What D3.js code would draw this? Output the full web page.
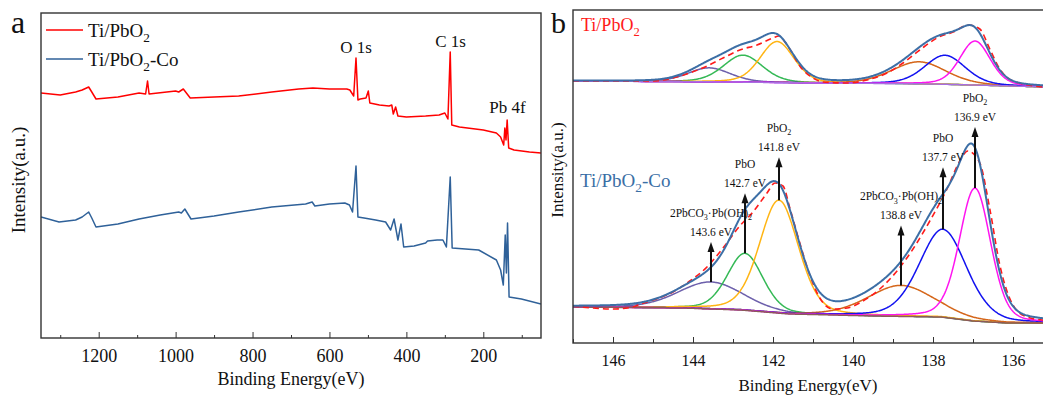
<!DOCTYPE html>
<html lang="en">
<head>
<meta charset="UTF-8">
<title>XPS survey and Pb 4f spectra</title>
<script src="https://d3js.org/d3.v7.min.js"></script>
<style>
  body { margin: 0; background: #fff; }
  svg { display: block; background: #fff; }
</style>
</head>
<body>
<svg width="1043" height="399"></svg>
<script>
// ---------- panel a : survey spectra, [binding energy (eV), intensity (a.u.)]
const surveyPb = [[1350,245],[1300,243],[1260,246],[1243,248],[1226,251],[1218,246],[1207,239],[1150,241],[1095,245],[1078,244],[1073,257],[1069,244],[1000,247],[992,246],[980,249],[972,245],[962,240],[900,241],[836,242],[750,246],[680,249],[643,250],[600,249],[555,249],[547,248],[537,242],[531,280],[526,238],[520,239],[505,240],[499,247],[495,235],[470,233],[445,232],[438,233],[434,224],[428,231],[422,222],[400,221],[350,222],[315,223],[300,225],[292,219],[286,286],[282,213],[262,211],[200,208],[166,205],[155,201],[147,193],[144,210],[141,198],[138,218],[134,190],[120,188],[80,186],[50,185]];
const surveyCo = [[1350,121],[1303,116],[1260,118],[1243,121],[1226,126],[1218,120],[1207,111],[1150,114],[1095,119],[1040,123],[992,126],[985,125],[976,129],[968,124],[960,119],[900,122],[836,126],[750,131],[662,134],[645,136],[638,132],[600,134],[560,135],[548,133],[540,126],[531,172],[526,121],[510,120],[480,118],[454,116],[441,108],[432,119],[422,98],[414,114],[407,91],[380,92],[350,95],[345,97],[320,98],[305,98],[296,91],[286,161],[281,90],[212,88],[166,78],[155,68],[148,53],[143,103],[140,65],[137,115],[133,41],[101,39],[50,34]];
const surveyNames = ["Ti/PbO_2", "Ti/PbO_2-Co"];
const surveyPeakLabels = ["O 1s", "C 1s", "Pb 4f"];
const surveyPeakEnergy = [531, 285, 137];
const surveyMajor = [1200, 1000, 800, 600, 400, 200];
const surveyMinor = [1300, 1100, 900, 700, 500, 300, 100];

// ---------- panel b : Pb 4f fits
const peakNames = ["2PbCO_3·Pb(OH)_2", "PbO", "PbO_2", "2PbCO_3·Pb(OH)_2", "PbO", "PbO_2"];
const peakLabelEv = ["143.6 eV", "142.7 eV", "141.8 eV", "138.8 eV", "137.7 eV", "136.9 eV"];
// Ti/PbO2-Co (lower spectrum)
const coCenter = [143.55, 142.7, 141.85, 138.8, 137.75, 136.95];
const coHeight = [27, 57, 113, 31, 88, 133];
const coFwhm = [1.9, 1.05, 1.15, 1.95, 1.4, 0.92];
const coBackground = [[147,16],[144.25,15],[142.8,13],[141.6,9],[141,8.5],[139.5,7],[137.8,6],[137,2],[136.15,0],[135.2,0]];
const coRaw = [[147.0,17],[146.5,15],[146.0,14],[145.5,16],[145.3,19],[144.5,31],[144.08,42],[143.65,56],[143.25,75],[142.83,97],[142.5,111],[142.15,130],[141.95,140],[141.75,137],[141.58,115],[141.33,80],[141.08,48],[140.83,25],[140.5,14],[140.15,15],[139.75,22],[139.33,34],[138.9,52],[138.5,74],[138.08,102],[137.65,134],[137.33,162],[137.13,172],[136.83,160],[136.58,114],[136.33,58],[136.0,18],[135.65,6],[135.25,3]];
// Ti/PbO2 (upper spectrum)
const pbCenter = [143.6, 142.75, 141.9, 138.35, 137.7, 136.95];
const pbHeight = [14, 27, 41, 22, 29, 44];
const pbFwhm = [1.25, 1.15, 1.0, 1.6, 1.2, 0.9];
const pbBackground = [[147,242],[143,241],[141,240],[139,239.5],[138,239],[137,238],[136,237],[135.2,236]];
const pbRaw = [[147.0,242],[145.0,242],[144.5,245],[144.08,250],[143.65,257],[143.25,265],[142.83,273],[142.4,278],[142.0,285],[141.85,287],[141.7,281],[141.55,272],[141.33,257],[141.0,245],[140.75,241],[140.15,240],[139.65,243],[139.15,250],[138.75,260],[138.33,273],[137.9,285],[137.5,291],[137.1,298],[136.83,294],[136.58,274],[136.33,254],[136.0,242],[135.25,236]];
const fitMajor = [146, 144, 142, 140, 138, 136];
const fitMinor = [147, 145, 143, 141, 139, 137, 135];

// ---------- styles
const FONT = "'Liberation Serif', 'Times New Roman', 'DejaVu Serif', serif";
const compColors = ["#6c5fab", "#35b956", "#ffb514", "#d5661a", "#1212f0", "#ff14f0"];
const arrowLen = [40, 60, 43, 60, 62, 61];
const lorentzMix = 0.25;

const svg = d3.select("svg").attr("font-family", FONT);

// write "PbO_2" style strings with subscripts
function rich(sel, str, fs) {
  let down = false;
  str.split(/(_\d)/).forEach(part => {
    if (!part) return;
    if (part[0] === "_") {
      sel.append("tspan").attr("font-size", fs * 0.7).attr("dy", fs * 0.28).text(part.slice(1));
      down = true;
    } else {
      const t = sel.append("tspan").text(part);
      if (down) { t.attr("dy", -fs * 0.28); down = false; }
    }
  });
  return sel;
}

function txt(g, size) {
  return g.append("text").attr("font-family", FONT).attr("font-size", size).attr("fill", "#111");
}

// ================= panel a
const ax = d3.scaleLinear().domain([1350, 50]).range([41, 541]);
const ay = d3.scaleLinear().domain([0, 325]).range([338, 13]);
const gA = svg.append("g");
gA.append("clipPath").attr("id", "clipA").append("rect")
  .attr("x", 41).attr("y", 13).attr("width", 500).attr("height", 325);

const lineA = d3.line().x(d => ax(d[0])).y(d => ay(d[1]));
const surveyColors = ["#ff0000", "#2f6199"];
[surveyPb, surveyCo].forEach((s, i) => {
  gA.append("path").datum(s).attr("d", lineA)
    .attr("fill", "none").attr("stroke", surveyColors[i]).attr("stroke-width", 1.5)
    .attr("stroke-linejoin", "round").attr("clip-path", "url(#clipA)");
});

gA.append("g").attr("transform", "translate(0,338)")
  .call(d3.axisBottom(ax).tickValues(surveyMajor).tickSize(-6).tickPadding(11).tickFormat(d3.format("d")))
  .attr("font-size", 18).attr("font-family", FONT).attr("color", "#333")
  .call(g => g.select(".domain").remove())
  .call(g => g.selectAll("text").attr("fill", "#111"));
gA.append("g").attr("transform", "translate(0,338)")
  .call(d3.axisBottom(ax).tickValues(surveyMinor).tickSize(-3).tickFormat(""))
  .attr("color", "#333")
  .call(g => g.select(".domain").remove());

gA.append("rect").attr("x", 41).attr("y", 13).attr("width", 500).attr("height", 325)
  .attr("fill", "none").attr("stroke", "#333").attr("stroke-width", 1.4);

txt(gA, 18).attr("x", 291).attr("y", 385).attr("text-anchor", "middle").text("Binding Energy(eV)");
txt(gA, 19).attr("transform", "translate(25,180) rotate(-90)").attr("text-anchor", "middle").text("Intensity(a.u.)");
txt(gA, 32).attr("x", 11).attr("y", 33).text("a");

// legend
surveyNames.forEach((n, i) => {
  const y = 30 + i * 29;
  gA.append("line").attr("x1", 46).attr("x2", 83).attr("y1", y).attr("y2", y)
    .attr("stroke", surveyColors[i]).attr("stroke-width", 1.6);
  rich(txt(gA, 19).attr("x", 88).attr("y", y + 7), n, 19);
});

// peak labels
const surveyLabelY = [53, 47, 113];
surveyPeakLabels.forEach((t, i) => {
  txt(gA, 17).attr("x", ax(surveyPeakEnergy[i])).attr("y", surveyLabelY[i])
    .attr("text-anchor", "middle").text(t);
});

// ================= panel b
const bx = d3.scaleLinear().domain([147, 135.2]).range([573, 1045]);
const by = d3.scaleLinear().domain([-20, 313]).range([343, 10]);
const gB = svg.append("g");
gB.append("clipPath").attr("id", "clipB").append("rect")
  .attr("x", 573).attr("y", 10).attr("width", 472).attr("height", 333);
const plotB = gB.append("g").attr("clip-path", "url(#clipB)");

const grid = d3.range(0, 591).map(i => 147 - i * 0.02);
function peak(e, c, h, w) {
  const t = (e - c) / w;
  return h * ((1 - lorentzMix) * Math.exp(-4 * Math.LN2 * t * t) + lorentzMix / (1 + 4 * t * t));
}
const lineB = d3.line().x(d => bx(d[0])).y(d => by(d[1]));
const lineRaw = d3.line().x(d => bx(d[0])).y(d => by(d[1])).curve(d3.curveMonotoneX);

function drawFit(center, height, fwhm, bgPts, raw, bgColor) {
  const bg = d3.scaleLinear().domain(bgPts.map(d => d[0])).range(bgPts.map(d => d[1]));
  center.forEach((c, i) => {
    const pts = grid.map(e => [e, bg(e) + peak(e, c, height[i], fwhm[i])]);
    plotB.append("path").datum(pts).attr("d", lineB).attr("fill", "none")
      .attr("stroke", compColors[i]).attr("stroke-width", 1.5);
  });
  plotB.append("path").datum(grid.map(e => [e, bg(e)])).attr("d", lineB)
    .attr("fill", "none").attr("stroke", bgColor).attr("stroke-width", 1.5);
  plotB.append("path").datum(raw).attr("d", lineRaw).attr("fill", "none")
    .attr("stroke", "#ff1a1a").attr("stroke-width", 1.6).attr("stroke-dasharray", "6,4");
  const env = grid.map(e => [e, bg(e) + d3.sum(center, (c, i) => peak(e, c, height[i], fwhm[i]))]);
  plotB.append("path").datum(env).attr("d", lineB).attr("fill", "none")
    .attr("stroke", "#3d6fa6").attr("stroke-width", 2);
  return bg;
}

drawFit(pbCenter, pbHeight, pbFwhm, pbBackground, pbRaw, "#a86ee0");
const coBg = drawFit(coCenter, coHeight, coFwhm, coBackground, coRaw, "#8c5a5a");

// arrows and peak assignments (lower spectrum)
coCenter.forEach((c, i) => {
  const x = bx(c);
  const y0 = by(coBg(c) + coHeight[i]);
  const tip = y0 - arrowLen[i];
  gB.append("line").attr("x1", x).attr("x2", x).attr("y1", y0).attr("y2", tip + 8)
    .attr("stroke", "#111").attr("stroke-width", 2);
  gB.append("path").attr("d", `M${x},${tip}L${x - 3.5},${tip + 10}L${x + 3.5},${tip + 10}Z`).attr("fill", "#111");
  txt(gB, 11.5).attr("x", x).attr("y", tip - 6).attr("text-anchor", "middle").text(peakLabelEv[i]);
  rich(txt(gB, 11.5).attr("x", x).attr("y", tip - 25).attr("text-anchor", "middle"), peakNames[i], 11.5);
});

gB.append("g").attr("transform", "translate(0,343)")
  .call(d3.axisBottom(bx).tickValues(fitMajor).tickSize(-6).tickPadding(12).tickFormat(d3.format("d")))
  .attr("font-size", 16).attr("font-family", FONT).attr("color", "#333")
  .call(g => g.select(".domain").remove())
  .call(g => g.selectAll("text").attr("fill", "#111"));
gB.append("g").attr("transform", "translate(0,343)")
  .call(d3.axisBottom(bx).tickValues(fitMinor).tickSize(-4).tickFormat(""))
  .attr("color", "#333")
  .call(g => g.select(".domain").remove());

gB.append("rect").attr("x", 573).attr("y", 10).attr("width", 480).attr("height", 333)
  .attr("fill", "none").attr("stroke", "#333").attr("stroke-width", 1.4);

txt(gB, 17).attr("x", 808).attr("y", 391).attr("text-anchor", "middle").text("Binding Energy(eV)");
txt(gB, 17).attr("transform", "translate(563,170) rotate(-90)").attr("text-anchor", "middle").text("Intensity(a.u.)");
txt(gB, 30).attr("x", 551).attr("y", 33).text("b");

rich(txt(gB, 18).attr("x", 581).attr("y", 31).attr("fill", "#ff1a1a"), "Ti/PbO_2", 18);
rich(txt(gB, 19).attr("x", 580).attr("y", 187).attr("fill", "#3a6ea5"), "Ti/PbO_2-Co", 19);
</script>
</body>
</html>
